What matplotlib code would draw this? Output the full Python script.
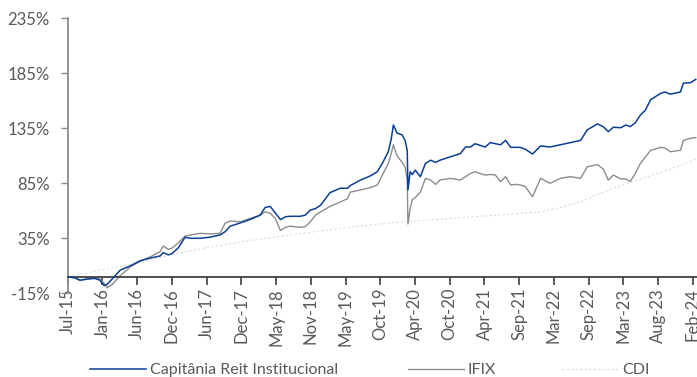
import matplotlib
matplotlib.use("Agg")
import matplotlib.pyplot as plt

plt.rcParams['font.family'] = ['Lato', 'DejaVu Sans']

# Observation dates as decimal years
dates = [
    2015.50, 2015.60, 2015.67, 2015.77, 2015.87, 2015.94, 2016.00, 2016.04, 2016.11, 2016.22,
    2016.36, 2016.49, 2016.63, 2016.77, 2016.81, 2016.88, 2016.93, 2017.02, 2017.11, 2017.18,
    2017.32, 2017.45, 2017.59, 2017.66, 2017.73, 2017.87, 2018.00, 2018.14, 2018.21, 2018.28,
    2018.35, 2018.42, 2018.49, 2018.55, 2018.69, 2018.76, 2018.83, 2018.90, 2018.97, 2019.10,
    2019.24, 2019.34, 2019.38, 2019.52, 2019.65, 2019.75, 2019.83, 2019.90, 2019.94, 2019.97,
    2020.02, 2020.09, 2020.13, 2020.16, 2020.17, 2020.20, 2020.23, 2020.27, 2020.34, 2020.41,
    2020.48, 2020.55, 2020.61, 2020.75, 2020.89, 2020.96, 2021.03, 2021.09, 2021.23, 2021.30,
    2021.37, 2021.44, 2021.51, 2021.58, 2021.64, 2021.71, 2021.78, 2021.88, 2021.99, 2022.12,
    2022.26, 2022.40, 2022.54, 2022.63, 2022.77, 2022.85, 2022.92, 2022.99, 2023.09, 2023.16,
    2023.22, 2023.29, 2023.36, 2023.43, 2023.50, 2023.64, 2023.70, 2023.77, 2023.91, 2023.95,
    2024.05, 2024.12,
]

# Cumulative return (%) of the fund
capitania = [
    0, -1, -3, -2, -1.5, -3, -8, -7, -2, 6,
    10, 14.5, 17, 19, 22, 20, 21, 26.5, 36, 35,
    35, 36, 38, 41, 46, 49, 52, 56, 63, 64,
    58, 52, 54.6, 55, 55, 56, 60.7, 62, 65, 76.5,
    80.5, 80.5, 83, 88, 91.6, 95.5, 104.6, 113.7, 125, 138,
    130.7, 129, 124, 115, 79, 95.5, 93, 97, 91, 103,
    106, 104, 106, 109, 112, 118, 118, 121, 118, 122,
    121, 120, 124, 117.7, 117.7, 117.7, 116, 111.6, 119, 118,
    120, 122, 124, 133.5, 139, 136.5, 132, 136, 135.5, 138,
    136.5, 140, 147, 151.6, 161, 166.8, 168, 166, 168, 176,
    176.5, 179.5,
]

# Cumulative return (%) of the IFIX index
ifix = [
    0, -1, -3.5, -2, -1, -2, -6, -10, -7, 1,
    9, 14, 18, 23, 28, 25, 26, 31, 37, 38,
    39.5, 39, 39.5, 48.6, 50.7, 50, 53, 56, 59, 57.7,
    53, 42, 45, 46, 45, 45.5, 50, 56, 59, 64,
    68, 71, 77, 79, 81, 83.5, 94, 103, 112, 120,
    110, 104, 100, 88, 48, 62, 70, 72, 77, 89.5,
    88, 84, 88, 89.5, 88, 91, 94, 95.5, 92.5, 93,
    92.5, 86.5, 91, 83.5, 84, 83.5, 82, 72.8, 89.5, 85,
    89.5, 91, 89.5, 100, 102, 98, 88, 92.5, 89, 89,
    86.5, 94, 103, 109, 115, 117.7, 117, 113.7, 115, 124,
    126, 126.5,
]

# Cumulative CDI (%)
cdi_dates = [2015.50, 2015.94, 2016.49, 2016.91, 2017.45, 2018.00, 2018.55, 2019.24,
             2019.92, 2020.75, 2021.58, 2021.99, 2022.26, 2022.54, 2022.81, 2023.09,
             2023.50, 2023.91, 2024.12]
cdi = [0, 6, 13, 20, 27, 33, 38, 44,
       49, 53, 57, 59, 63, 68, 76, 83,
       92, 101, 107]

tick_labels = ["Jul-15", "Jan-16", "Jun-16", "Dec-16", "Jun-17", "Dec-17", "May-18",
               "Nov-18", "May-19", "Oct-19", "Apr-20", "Oct-20", "Apr-21", "Sep-21",
               "Mar-22", "Sep-22", "Mar-23", "Aug-23", "Feb-24"]
y_ticks = [-15, 35, 85, 135, 185, 235]

fig = plt.figure(figsize=(6.97, 3.77), dpi=100)
ax = fig.add_axes([67.7 / 697, 1 - 293.3 / 377, 1 - 67.7 / 697, (293.3 - 18.3) / 377])

# Spines first: repositioning a spine rebuilds the ticks
for s in ("top", "right"):
    ax.spines[s].set_visible(False)
ax.spines["bottom"].set_position(("data", 0))
ax.spines["bottom"].set_color("#404040")
ax.spines["bottom"].set_linewidth(1.3)
ax.spines["left"].set_color("#8c8c8c")
ax.spines["left"].set_linewidth(1.3)

l1, = ax.plot(dates, capitania, color="#0b3f93", lw=1.1, label="Capitânia Reit Institucional", zorder=3)
l2, = ax.plot(dates, ifix, color="#8c8c8c", lw=1.0, label="IFIX", zorder=2)
l3, = ax.plot(cdi_dates, cdi, color="#dcdcdc", lw=0.8, ls=(0, (2, 2)), label="CDI", zorder=1)

step = (2024.08 - 2015.5) / 18
tick_pos = [2015.5 + i * step for i in range(len(tick_labels))]
ax.set_xticks(tick_pos)
ax.set_xticklabels(tick_labels)
ax.set_xlim(2015.5, 2015.5 + 18.12 * step)

ax.set_yticks(y_ticks)
ax.set_yticklabels([f"{v}%" for v in y_ticks])
ax.set_ylim(-15, 235)

ax.tick_params(axis="x", direction="out", length=6, width=1.2, color="#404040", pad=2,
               labelrotation=90, labelsize=12, labelcolor="#595959")
ax.tick_params(axis="y", direction="out", length=5, width=1.0, color="#8c8c8c", pad=8,
               labelsize=12, labelcolor="#595959")

# One legend entry per series, spread along the bottom
legend_x = [90 / 697, 408 / 697, 562 / 697]
for handle, x0 in zip((l1, l2, l3), legend_x):
    fig.legend(handles=[handle], loc="center left", bbox_to_anchor=(x0, 1 - 370 / 377),
               frameon=False, fontsize=11.5, handlelength=3.5, handletextpad=0.25,
               borderpad=0, borderaxespad=0, labelcolor="#595959")

fig.savefig("out.png", dpi=100)
